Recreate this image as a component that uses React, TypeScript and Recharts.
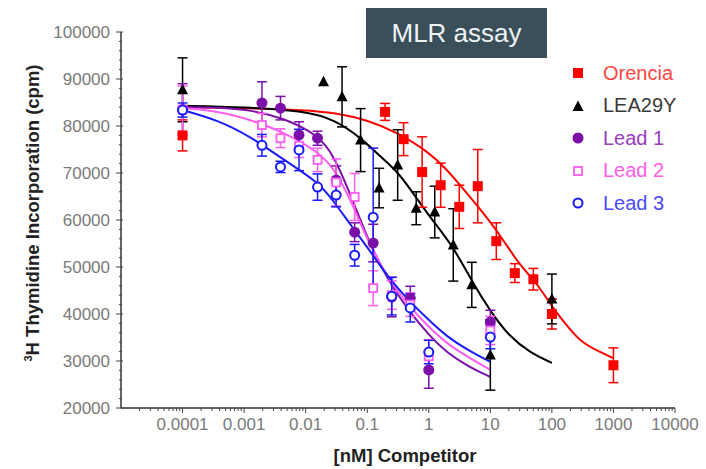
import { ComposedChart, ErrorBar, Line, Scatter, XAxis, YAxis } from "recharts"

const FONT = '"Liberation Sans", Arial, sans-serif'

// axis ticks
const xMajorTicks = [0.0001, 0.001, 0.01, 0.1, 1, 10, 100, 1000, 10000]
const xMajorLabels = ["0.0001", "0.001", "0.01", "0.1", "1", "10", "100", "1000", "10000"]
const xDecades = [0.00001, 0.0001, 0.001, 0.01, 0.1, 1, 10, 100, 1000]
const xMinorSteps = [2, 3, 4, 5, 6, 7, 8, 9]
const yMajorTicks = [20000, 30000, 40000, 50000, 60000, 70000, 80000, 90000, 100000]
const yMajorLabels = ["20000", "30000", "40000", "50000", "60000", "70000", "80000", "90000", "100000"]
const yMinorTicks = [22000, 24000, 26000, 28000, 32000, 34000, 36000, 38000, 42000, 44000, 46000, 48000, 52000, 54000, 56000, 58000, 62000, 64000, 66000, 68000, 72000, 74000, 76000, 78000, 82000, 84000, 86000, 88000, 92000, 94000, 96000, 98000]

// Orencia
const orenciaX = [0.0001, 0.195, 0.39, 0.78, 1.56, 3.125, 6.25, 12.5, 25, 50, 100, 1000]
const orenciaY = [78000, 83000, 77200, 70200, 67400, 62800, 67200, 55500, 48700, 47400, 40000, 29100]
const orenciaErr = [3300, 1800, 3500, 7500, 4700, 4600, 7800, 3900, 2000, 2300, 3200, 3700]
const orenciaFitX = [0.0001, 0.001, 0.01, 0.03, 0.1, 0.3, 1, 2, 3, 6, 10, 17.5, 30, 60, 100, 200, 300, 600, 1000]
const orenciaFitY = [84000, 83800, 83400, 82800, 81300, 78700, 74500, 70600, 67900, 63200, 59600, 55100, 50400, 46200, 41500, 36600, 34000, 31900, 30600]

// LEA29Y
const leaX = [0.0001, 0.0195, 0.039, 0.078, 0.156, 0.3125, 0.625, 1.25, 2.5, 5, 10, 100]
const leaY = [87700, 89400, 86200, 77000, 66800, 71700, 62500, 61700, 54700, 46200, 31300, 43200]
const leaErr = [6800, 0, 6400, 6700, 4200, 7500, 3500, 5500, 7700, 4800, 7500, 5300]
const leaFitX = [0.0001, 0.001, 0.01, 0.03, 0.08, 0.16, 0.32, 0.66, 1.2, 2.5, 5, 10, 20, 45, 100]
const leaFitY = [84300, 84000, 83200, 81300, 77400, 73600, 70200, 64300, 59600, 54300, 47000, 40600, 35300, 31700, 29600]

// Leads share the same dilution series
const leadX = [0.0001, 0.00195, 0.0039, 0.0078, 0.0156, 0.03125, 0.0625, 0.125, 0.25, 0.5, 1, 10]
const lead1Y = [83500, 84900, 83800, 78100, 77400, 68500, 57400, 55100, 43600, 43400, 28100, 38300]
const lead1Err = [5500, 4500, 2500, 2800, 1500, 3000, 2000, 4000, 4200, 2500, 3900, 2500]
const lead2Y = [83500, 80200, 77400, 75800, 72800, 68000, 64900, 45500, 44000, 42000, 31000, 36500]
const lead2Err = [5000, 2500, 2000, 2500, 2500, 5000, 5000, 3700, 3000, 2500, 3500, 3000]
const lead3Y = [83400, 75900, 71300, 74900, 67000, 65300, 52500, 60600, 43800, 41300, 31900, 35100]
const lead3Err = [1500, 2300, 1200, 4400, 2800, 2500, 2300, 14700, 4000, 3000, 2500, 2500]

const leadFitX = [0.0001, 0.00037, 0.0013, 0.0044, 0.016, 0.0285, 0.054, 0.1, 0.215, 0.46, 1, 2, 4.3, 10]
const lead1FitY = [84000, 84000, 83400, 81700, 78100, 73800, 65300, 56200, 47200, 40900, 35500, 31700, 28900, 26600]
const lead2FitY = [83800, 83200, 81300, 78700, 74500, 71100, 64300, 55700, 47700, 41900, 37200, 33600, 30900, 28100]
const lead3FitY = [83400, 81300, 77700, 72800, 68100, 64000, 58900, 54300, 47900, 43000, 38700, 35100, 32300, 29800]

const pts = (xs: number[], ys: number[], errs?: number[]) =>
  xs.map((x, i) => ({ x, y: ys[i], err: errs ? errs[i] : 0 }))

const RED = "#ff0000"
const BLACK = "#000000"
const PURPLE = "#7a10a8"
const PINK = "#ff5cf0"
const BLUE = "#1a1aff"

const xMinorTicks = xDecades.flatMap((d) => xMinorSteps.map((k) => k * d))
const xTicks = [...xMajorTicks, ...xMinorTicks]
const yTicks = [...yMajorTicks, ...yMinorTicks]

function XTick({ x, y, payload }: any) {
  const v = payload.value
  const i = xMajorTicks.findIndex((t) => Math.abs(Math.log10(t) - Math.log10(v)) < 1e-6)
  if (i < 0) return <line x1={x} x2={x} y1={y} y2={y + 3} stroke="#444" />
  return (
    <g>
      <line x1={x} x2={x} y1={y} y2={y + 5} stroke="#444" />
      <text x={x} y={y + 22} textAnchor="middle" fill="#7a7a7a" fontSize={17} fontFamily={FONT}>
        {xMajorLabels[i]}
      </text>
    </g>
  )
}

function YTick({ x, y, payload }: any) {
  const i = yMajorTicks.indexOf(payload.value)
  if (i < 0) return <line x1={x - 2} x2={x + 1} y1={y} y2={y} stroke="#444" />
  return (
    <g>
      <line x1={x - 5} x2={x + 2} y1={y} y2={y} stroke="#444" />
      <text x={x - 11} y={y + 6} textAnchor="end" fill="#7a7a7a" fontSize={17} fontFamily={FONT}>
        {yMajorLabels[i]}
      </text>
    </g>
  )
}

const Square = ({ cx, cy, fill }: any) => <rect x={cx - 5} y={cy - 5} width={10} height={10} fill={fill} />
const Triangle = ({ cx, cy, fill }: any) => (
  <polygon points={`${cx},${cy - 6} ${cx - 5.5},${cy + 4.5} ${cx + 5.5},${cy + 4.5}`} fill={fill} />
)
const Dot = ({ cx, cy, fill }: any) => <circle cx={cx} cy={cy} r={5.5} fill={fill} />
const OpenSquare = ({ cx, cy, stroke }: any) => (
  <rect x={cx - 4} y={cy - 4} width={8} height={8} fill="#fff" stroke={stroke} strokeWidth={1.8} />
)
const Ring = ({ cx, cy, stroke }: any) => (
  <circle cx={cx} cy={cy} r={4.5} fill="#fff" stroke={stroke} strokeWidth={2} />
)

const legendItems = [
  { name: "Orencia", color: RED, text: "#ff4545", mark: "square" },
  { name: "LEA29Y", color: BLACK, text: "#3a3a3a", mark: "triangle" },
  { name: "Lead 1", color: PURPLE, text: "#9a3cbe", mark: "dot" },
  { name: "Lead 2", color: PINK, text: "#ff5ce8", mark: "openSquare" },
  { name: "Lead 3", color: BLUE, text: "#4a4aff", mark: "ring" },
]

function LegendMark({ mark, color }: { mark: string; color: string }) {
  return (
    <svg width={16} height={16}>
      {mark === "square" && <Square cx={8} cy={8} fill={color} />}
      {mark === "triangle" && <Triangle cx={8} cy={8.5} fill={color} />}
      {mark === "dot" && <Dot cx={8} cy={8} fill={color} />}
      {mark === "openSquare" && <OpenSquare cx={8} cy={8} stroke={color} />}
      {mark === "ring" && <Ring cx={8} cy={8} stroke={color} />}
    </svg>
  )
}

export default function App() {
  return (
    <div style={{ position: "absolute", left: 0, top: 0, width: 706, height: 469, background: "#fff", fontFamily: FONT }}>
      <ComposedChart width={706} height={469} margin={{ top: 32, right: 31, left: 0, bottom: 0 }}>
        <XAxis
          dataKey="x"
          type="number"
          scale="log"
          domain={[0.00001, 10000]}
          allowDataOverflow
          ticks={xTicks}
          interval={0}
          height={61}
          tickLine={false}
          tickSize={0}
          tickMargin={0}
          tick={<XTick />}
          axisLine={{ stroke: "#333", strokeWidth: 1.5 }}
          label={{
            content: () => (
              <text x={405} y={462} textAnchor="middle" fontSize={18.5} fontWeight="bold" fill="#222" fontFamily={FONT}>
                [nM] Competitor
              </text>
            ),
          }}
        />
        <YAxis
          dataKey="y"
          type="number"
          domain={[20000, 100000]}
          allowDataOverflow
          ticks={yTicks}
          interval={0}
          width={121}
          tickLine={false}
          tickSize={0}
          tickMargin={0}
          tick={<YTick />}
          axisLine={{ stroke: "#333", strokeWidth: 1.5 }}
          label={{
            content: () => (
              <text
                x={39}
                y={213}
                transform="rotate(-90 39 213)"
                textAnchor="middle"
                fontSize={18.5}
                fontWeight="bold"
                fill="#222"
                fontFamily={FONT}
              >
                <tspan fontSize={11} dy={-7}>3</tspan>
                <tspan dy={7}>H Thymidine Incorporation (cpm)</tspan>
              </text>
            ),
          }}
        />

        {/* fitted curves */}
        <Line data={pts(orenciaFitX, orenciaFitY)} dataKey="y" type="basis" stroke={RED} strokeWidth={2} dot={false} activeDot={false} isAnimationActive={false} />
        <Line data={pts(leaFitX, leaFitY)} dataKey="y" type="basis" stroke={BLACK} strokeWidth={2} dot={false} activeDot={false} isAnimationActive={false} />
        <Line data={pts(leadFitX, lead1FitY)} dataKey="y" type="basis" stroke={PURPLE} strokeWidth={2} dot={false} activeDot={false} isAnimationActive={false} />
        <Line data={pts(leadFitX, lead2FitY)} dataKey="y" type="basis" stroke={PINK} strokeWidth={2} dot={false} activeDot={false} isAnimationActive={false} />
        <Line data={pts(leadFitX, lead3FitY)} dataKey="y" type="basis" stroke={BLUE} strokeWidth={2} dot={false} activeDot={false} isAnimationActive={false} />

        {/* measured points */}
        <Scatter data={pts(orenciaX, orenciaY, orenciaErr)} fill={RED} shape={(p: any) => <Square {...p} fill={RED} />} isAnimationActive={false}>
          <ErrorBar dataKey="err" direction="y" width={5} stroke={RED} strokeWidth={1.5} />
        </Scatter>
        <Scatter data={pts(leaX, leaY, leaErr)} fill={BLACK} shape={(p: any) => <Triangle {...p} fill={BLACK} />} isAnimationActive={false}>
          <ErrorBar dataKey="err" direction="y" width={5} stroke={BLACK} strokeWidth={1.5} />
        </Scatter>
        <Scatter data={pts(leadX, lead1Y, lead1Err)} fill={PURPLE} shape={(p: any) => <Dot {...p} fill={PURPLE} />} isAnimationActive={false}>
          <ErrorBar dataKey="err" direction="y" width={5} stroke={PURPLE} strokeWidth={1.5} />
        </Scatter>
        <Scatter data={pts(leadX, lead2Y, lead2Err)} fill={PINK} shape={(p: any) => <OpenSquare {...p} stroke={PINK} />} isAnimationActive={false}>
          <ErrorBar dataKey="err" direction="y" width={5} stroke={PINK} strokeWidth={1.5} />
        </Scatter>
        <Scatter data={pts(leadX, lead3Y, lead3Err)} fill={BLUE} shape={(p: any) => <Ring {...p} stroke={BLUE} />} isAnimationActive={false}>
          <ErrorBar dataKey="err" direction="y" width={5} stroke={BLUE} strokeWidth={1.5} />
        </Scatter>
      </ComposedChart>

      <div
        style={{
          position: "absolute",
          left: 366,
          top: 8,
          width: 181,
          height: 50,
          background: "#3a4f5a",
          color: "#eef3f5",
          fontSize: 26,
          lineHeight: "50px",
          textAlign: "center",
        }}
      >
        MLR assay
      </div>

      <div style={{ position: "absolute", left: 570, top: 57 }}>
        {legendItems.map((it) => (
          <div key={it.name} style={{ display: "flex", alignItems: "center", height: 32.5 }}>
            <LegendMark mark={it.mark} color={it.color} />
            <span style={{ marginLeft: 17, fontSize: 20, color: it.text }}>{it.name}</span>
          </div>
        ))}
      </div>
    </div>
  )
}
